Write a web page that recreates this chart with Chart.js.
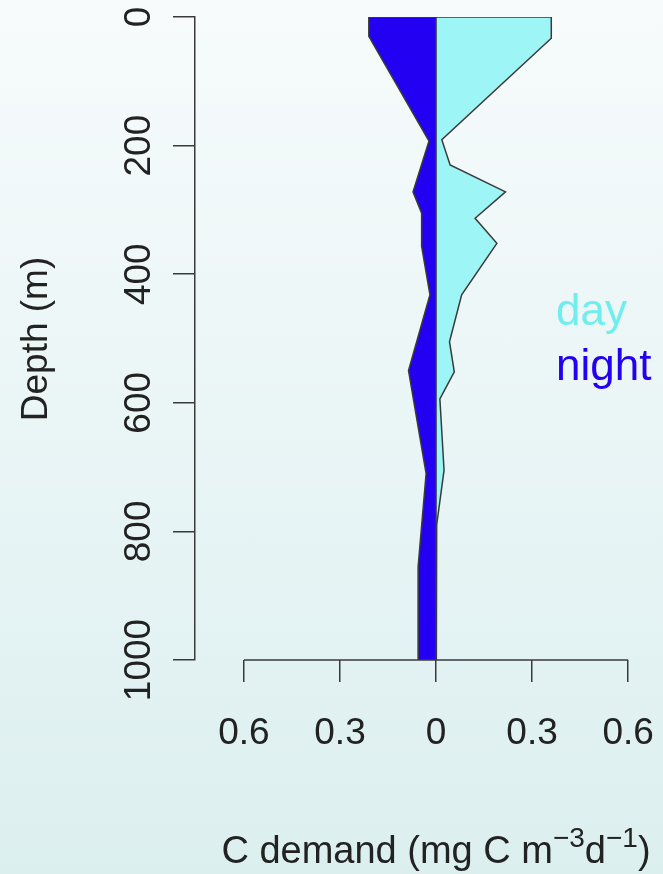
<!DOCTYPE html>
<html>
<head>
<meta charset="utf-8">
<script src="https://cdn.jsdelivr.net/npm/chart.js@4.4.0/dist/chart.umd.min.js"></script>
<style>
     html, body { margin: 0; padding: 0; }
     body { width: 663px; height: 874px; overflow: hidden;
            background: linear-gradient(to bottom, #f7fbfc 0%, #dcefef 100%); }
     #wrap { position: relative; width: 663px; height: 874px; }
</style>
</head>
<body>
<div id="wrap"><canvas id="myProfileChart"></canvas></div>
<script>
// Depth profile values (depth in m, C demand in mg C m-3 d-1)
// night is plotted to the left of zero, so its values are negative
var nightDepth = [0, 0, 30, 193, 272, 305, 357, 432, 550, 710, 855, 1000, 1000];
var nightValue = [0, -0.21, -0.21, -0.022, -0.072, -0.045, -0.045, -0.019, -0.086, -0.031, -0.056, -0.056, 0];

var dayDepth = [0, 0, 33, 191, 230, 272, 313, 352, 432, 505, 552, 594, 705, 790, 1000, 1000];
var dayValue = [0, 0.36, 0.36, 0.018, 0.044, 0.217, 0.122, 0.19, 0.08, 0.042, 0.057, 0.012, 0.025, 0.002, 0.002, 0];

var zeroDepth = [0, 1000];
var zeroValue = [0, 0];

var depthTicks = [0, 200, 400, 600, 800, 1000];
var demandTicks = [-0.6, -0.3, 0, 0.3, 0.6];
var demandTickLabels = ['0.6', '0.3', '0', '0.3', '0.6'];

var legendLabels = ['day', 'night'];
var dayColor = '#9ef5f6';
var nightColor = '#2400f2';
var axisColor = '#3a3a3a';
var textColor = '#222';
var FONT = '"Liberation Sans", Arial, Helvetica, sans-serif';

function toPoints(depths, values) {
     return depths.map(function (d, i) { return { x: values[i], y: d }; });
}

// Draws the axis texts, the x axis line and the day/night labels
var profileText = {
     id: 'profileText',
     afterDraw: function (chart) {
          var ctx = chart.ctx;
          var xs = chart.scales.x;
          var ys = chart.scales.y;
          var baseY = ys.getPixelForValue(1000);
          ctx.save();

          // x axis line only between the outer ticks
          ctx.strokeStyle = axisColor;
          ctx.lineWidth = 1.5;
          ctx.beginPath();
          ctx.moveTo(xs.getPixelForValue(demandTicks[0]), baseY);
          ctx.lineTo(xs.getPixelForValue(demandTicks[demandTicks.length - 1]), baseY);
          ctx.stroke();

          ctx.fillStyle = textColor;
          ctx.font = '37px ' + FONT;
          ctx.textAlign = 'center';
          ctx.textBaseline = 'alphabetic';
          demandTicks.forEach(function (v, i) {
               ctx.fillText(demandTickLabels[i], xs.getPixelForValue(v), 744);
          });

          // y tick labels, rotated
          depthTicks.forEach(function (d) {
               ctx.save();
               ctx.translate(150, ys.getPixelForValue(d));
               ctx.rotate(-Math.PI / 2);
               ctx.fillText(String(d), 0, 0);
               ctx.restore();
          });

          ctx.save();
          ctx.translate(47, 339);
          ctx.rotate(-Math.PI / 2);
          ctx.fillText('Depth (m)', 0, 0);
          ctx.restore();

          // x title with superscripts
          var parts = [
               { t: 'C demand (mg C m', sup: false },
               { t: '\u22123', sup: true },
               { t: 'd', sup: false },
               { t: '\u22121', sup: true },
               { t: ')', sup: false }
          ];
          var total = 0;
          parts.forEach(function (p) {
               ctx.font = (p.sup ? '28px ' : '38px ') + FONT;
               p.w = ctx.measureText(p.t).width;
               total += p.w;
          });
          var cx = (chart.chartArea.left + 677) / 2 - total / 2;
          ctx.textAlign = 'left';
          parts.forEach(function (p) {
               ctx.font = (p.sup ? '28px ' : '38px ') + FONT;
               ctx.fillText(p.t, cx, p.sup ? 847 : 863);
               cx += p.w;
          });

          // day / night labels
          ctx.font = '44px ' + FONT;
          ctx.fillStyle = '#70eeee';
          ctx.fillText(legendLabels[0], 556, 325);
          ctx.fillStyle = nightColor;
          ctx.fillText(legendLabels[1], 556, 380);
          ctx.restore();
     }
};

function createProfileChart() {
     var ctx = document.getElementById('myProfileChart').getContext('2d');
     window.myProfileChart = new Chart(ctx, {
          type: 'line',
          data: {
               datasets: [{
                    label: 'zero',
                    data: toPoints(zeroDepth, zeroValue),
                    borderColor: axisColor,
                    borderWidth: 1.5,
                    fill: false,
                    order: 0
               }, {
                    label: legendLabels[0],
                    data: toPoints(dayDepth, dayValue),
                    borderColor: axisColor,
                    backgroundColor: dayColor,
                    borderWidth: 1.5,
                    fill: { value: 0 },
                    order: 1
               }, {
                    label: legendLabels[1],
                    data: toPoints(nightDepth, nightValue),
                    borderColor: axisColor,
                    backgroundColor: nightColor,
                    borderWidth: 1.5,
                    fill: { value: 0 },
                    order: 2
               }]
          },
          options: {
               indexAxis: 'y',
               responsive: true,
               maintainAspectRatio: false,
               animation: false,
               layout: { padding: { top: 17, left: 0, right: 0, bottom: 0 } },
               elements: {
                    point: { radius: 0, hoverRadius: 0 },
                    line: { tension: 0 }
               },
               scales: {
                    x: {
                         type: 'linear',
                         min: -0.753,
                         max: 0.709,
                         afterBuildTicks: function (s) {
                              s.ticks = demandTicks.map(function (v) { return { value: v }; });
                         },
                         afterFit: function (s) { s.height = 214; },
                         ticks: { display: false },
                         border: { display: false },
                         grid: {
                              drawOnChartArea: false,
                              tickLength: 22,
                              tickColor: axisColor,
                              lineWidth: 1.5
                         }
                    },
                    y: {
                         type: 'linear',
                         reverse: true,
                         min: 0,
                         max: 1000,
                         afterBuildTicks: function (s) {
                              s.ticks = depthTicks.map(function (v) { return { value: v }; });
                         },
                         afterFit: function (s) { s.width = 195; },
                         ticks: { display: false },
                         border: { display: true, color: axisColor, width: 1.5 },
                         grid: {
                              drawOnChartArea: false,
                              tickLength: 22,
                              tickColor: axisColor,
                              lineWidth: 1.5
                         }
                    }
               },
               plugins: {
                    legend: { display: false },
                    tooltip: { enabled: false }
               }
          },
          plugins: [profileText]
     });
}

createProfileChart();
</script>
</body>
</html>
